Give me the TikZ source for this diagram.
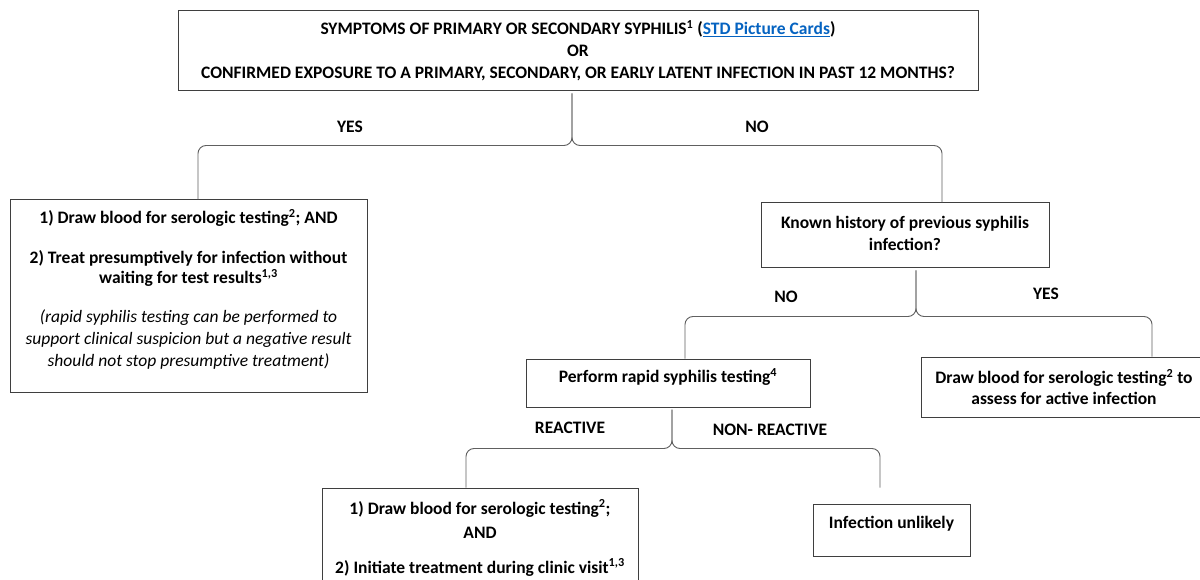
\documentclass[tikz,border=0pt]{standalone}
\usepackage{fontspec}
\setmainfont{Carlito}
\usetikzlibrary{calc}
\definecolor{boxline}{HTML}{3F3F3F}
\definecolor{linkline}{HTML}{606060}
\definecolor{linkblue}{HTML}{0563C1}
\tikzset{
  box/.style={draw=boxline, line width=1pt, rectangle, align=center, inner sep=0pt,
    font=\bfseries\fontsize{17.5}{22}\selectfont},
  conn/.style={draw=linkline, line width=0.9pt, rounded corners=8pt},
  lbl/.style={font=\bfseries\fontsize{17.5}{20}\selectfont, inner sep=0pt}
}
\begin{document}
\begin{tikzpicture}[x=1pt, y=-1pt]
  \fill[white] (0,0) rectangle (1200,580);
  \useasboundingbox (0,0) rectangle (1200,580);

  % question and outcome boxes
  \node[box, minimum width=800, minimum height=80] (top) at (578,51)
    {SYMPTOMS OF PRIMARY OR SECONDARY SYPHILIS\textsuperscript{1} ({\color{linkblue}\underline{STD Picture Cards}})\\
     OR\\
     CONFIRMED EXPOSURE TO A PRIMARY, SECONDARY, OR EARLY LATENT INFECTION IN PAST 12 MONTHS?};

  \node[box, minimum width=357, minimum height=192, font=\bfseries\fontsize{17.5}{20}\selectfont] (L) at (188.5,296)
    {1) Draw blood for serologic testing\textsuperscript{2}; AND\\[20pt]
     2) Treat presumptively for infection without\\
     waiting for test results\textsuperscript{1,3}\\[19pt]
     \mdseries\itshape (rapid syphilis testing can be performed to\\[2pt]
     \mdseries\itshape support clinical suspicion but a negative result\\[2pt]
     \mdseries\itshape should not stop presumptive treatment)\\[-10pt]\strut};

  \node[box, minimum width=288, minimum height=65] (K) at (905,235.5)
    {Known history of previous syphilis\\ infection?\\[-24pt]\strut};

  \node[box, minimum width=284, minimum height=48] (R) at (668,383)
    {Perform rapid syphilis testing\textsuperscript{4}\\[-14pt]\strut};

  \node[box, minimum width=286, minimum height=60] (Y) at (1064,387)
    {Draw blood for serologic testing\textsuperscript{2} to\\[-1pt] assess for active infection};

  \node[box, minimum width=316, minimum height=100] (BL) at (480,538)
    {1) Draw blood for serologic testing\textsuperscript{2};\\[2pt]
     AND\\[13pt]
     2) Initiate treatment during clinic visit\textsuperscript{1,3}};

  \node[box, minimum width=157, minimum height=52] (IU) at (891.5,530)
    {Infection unlikely\\[-14pt]\strut};

  % brace-shaped connectors
  \coordinate (ap1) at ([xshift=-6pt,yshift=-2pt]top.south);
  \coordinate (hz1) at ([xshift=-6pt,yshift=-54pt]top.south);
  \coordinate (Lt)  at ([xshift=9.5pt]L.north);
  \coordinate (Kt)  at ([xshift=37pt]K.north);
  \draw[conn] (ap1) -- (hz1) -| (Lt);
  \draw[conn] (ap1) -- (hz1) -| (Kt);

  \coordinate (ap2) at ([xshift=11pt,yshift=-2pt]K.south);
  \coordinate (hz2) at ([xshift=11pt,yshift=-48pt]K.south);
  \coordinate (Rt)  at ([xshift=17pt]R.north);
  \coordinate (Yt)  at ([xshift=88pt]Y.north);
  \draw[conn] (ap2) -- (hz2) -| (Rt);
  \draw[conn] (ap2) -- (hz2) -| (Yt);

  \coordinate (ap3) at ([xshift=4pt,yshift=-2pt]R.south);
  \coordinate (hz3) at ([xshift=4pt,yshift=-41pt]R.south);
  \coordinate (BLt) at ([xshift=-14pt]BL.north);
  \coordinate (IUt) at ([xshift=-11.5pt,yshift=16pt]IU.north);
  \draw[conn] (ap3) -- (hz3) -| (BLt);
  \draw[conn] (ap3) -- (hz3) -| (IUt);

  % branch labels
  \node[lbl] (yes1) at (350,127) {YES};
  \node[lbl] (no1)  at (757,127) {NO};
  \node[lbl] (no2)  at (786,297) {NO};
  \node[lbl] (yes2) at (1046,294) {YES};
  \node[lbl] (rea)  at (570,428) {REACTIVE};
  \node[lbl] (nrea) at (770,430) {NON- REACTIVE};
\end{tikzpicture}
\end{document}
